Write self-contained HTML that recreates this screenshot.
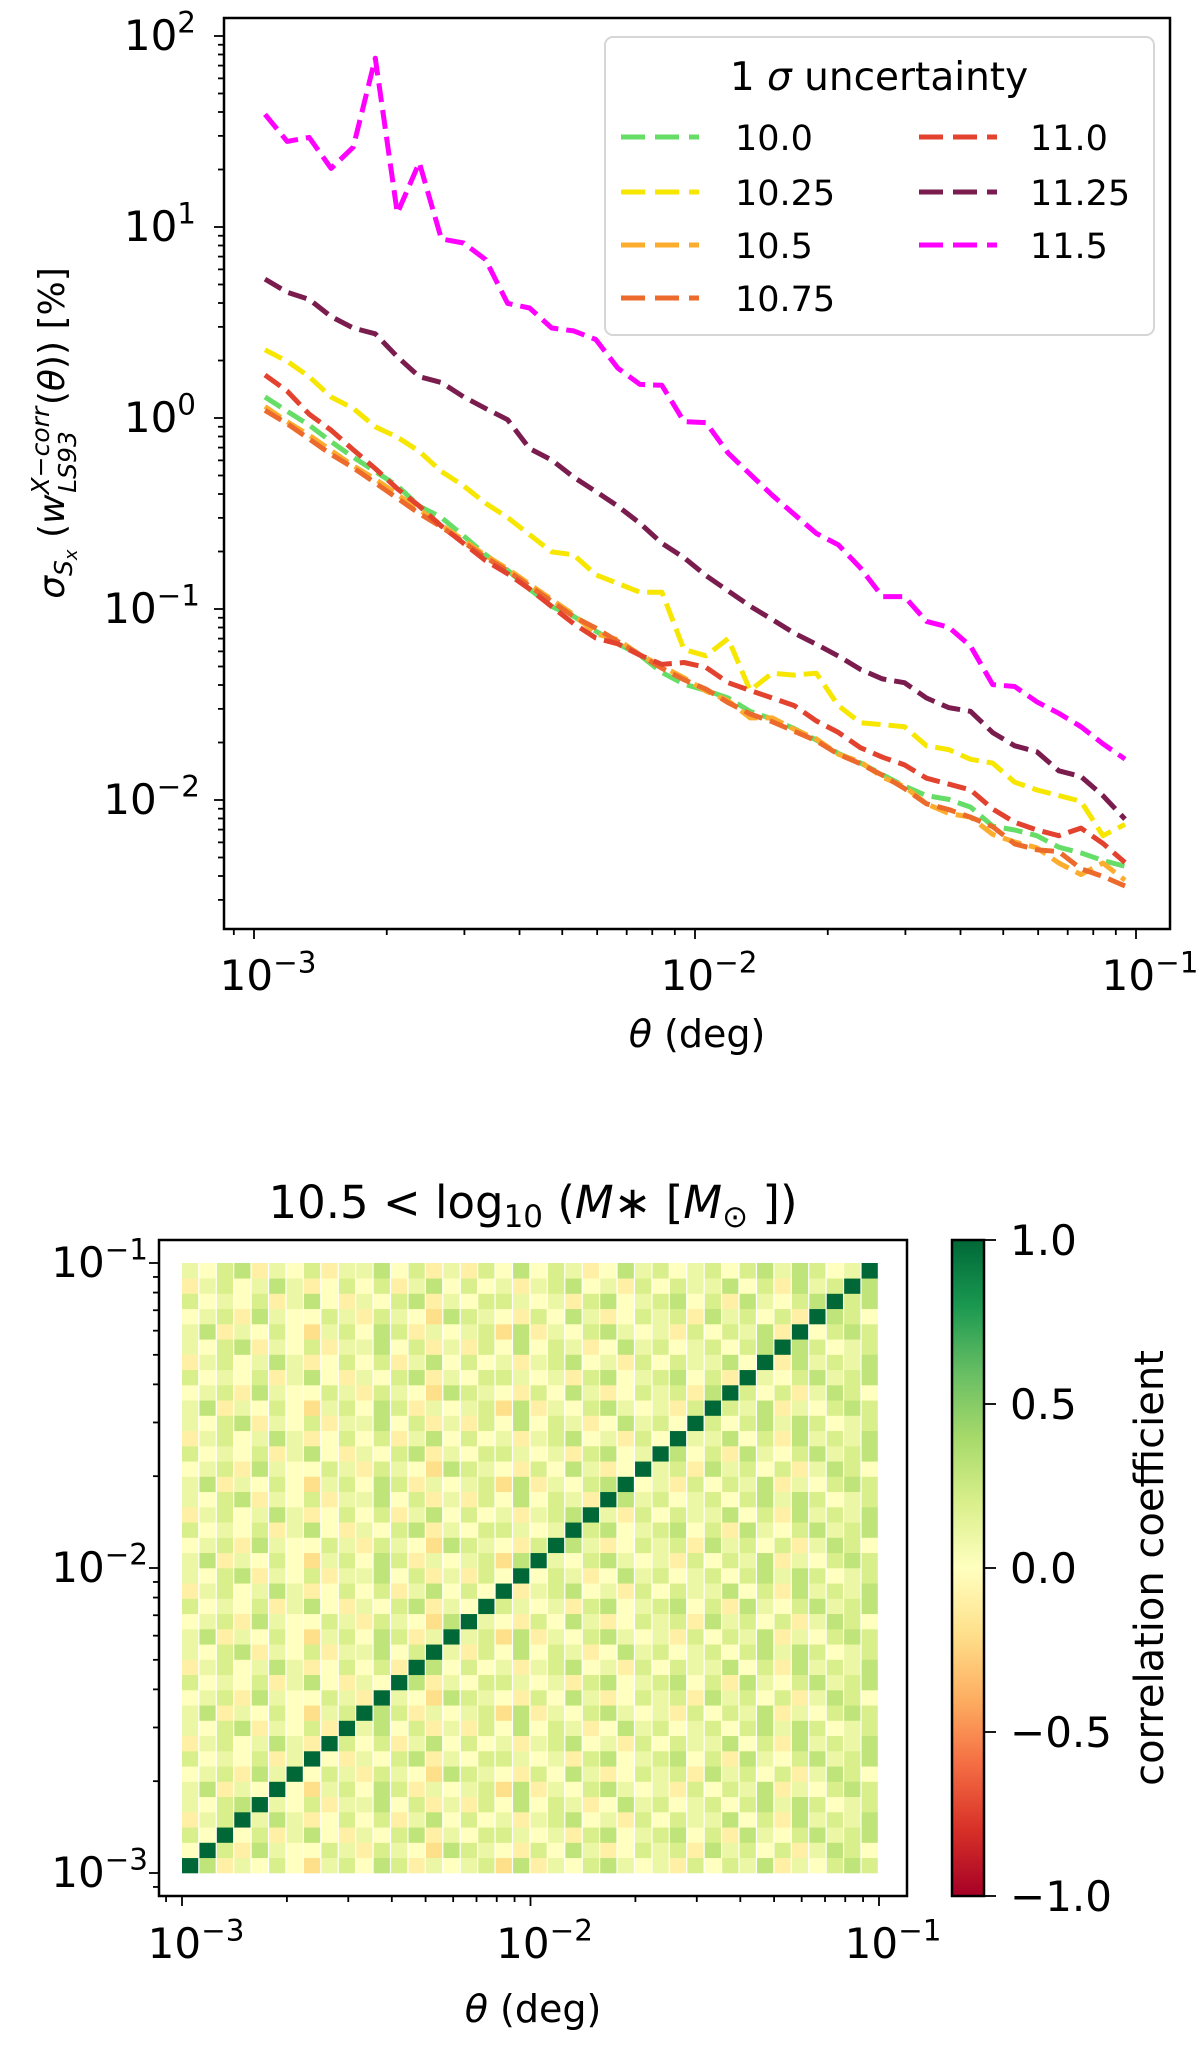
<!DOCTYPE html>
<html><head><meta charset="utf-8"><style>
html,body{margin:0;padding:0;background:#fff}
svg{display:block}
text{font-family:"DejaVu Sans","Liberation Sans",sans-serif;fill:#000}
</style></head><body>
<svg id="fig" width="1200" height="2056" viewBox="0 0 1200 2056" xmlns="http://www.w3.org/2000/svg">
<g id="topchart"></g>
<g id="botchart"></g>
</svg>
<script>
// ---------- data: top chart ----------
const theta = [0.001059,0.001189,0.001334,0.001496,0.001679,0.001884,0.002113,0.002371,0.002661,0.002985,
0.003350,0.003758,0.004217,0.004732,0.005309,0.005957,0.006683,0.007499,0.008414,0.009441,
0.010593,0.011885,0.013335,0.014962,0.016788,0.018836,0.021135,0.023714,0.026607,0.029854,
0.033497,0.037584,0.042170,0.047315,0.053088,0.059566,0.066834,0.074989,0.084140,0.094406];
const seriesNames = ["10.0","10.25","10.5","10.75","11.0","11.25","11.5"];
const seriesColors = ["#66dd66","#f7e600","#fdad2e","#ec6a2c","#e3422f","#7a1d4e","#ff00ff"];
// values given as log10(percent)
const logS100 = [0.110,0.035,-0.037,-0.124,-0.205,-0.280,-0.355,-0.461,-0.521,-0.617,-0.716,-0.797,-0.896,-0.987,-1.038,-1.116,-1.182,-1.242,-1.332,-1.393,
-1.426,-1.466,-1.536,-1.576,-1.626,-1.686,-1.756,-1.806,-1.867,-1.927,-1.977,-1.997,-2.037,-2.137,-2.157,-2.187,-2.247,-2.277,-2.317,-2.347];
const logS1025 = [0.357,0.297,0.216,0.110,0.050,-0.046,-0.100,-0.175,-0.280,-0.355,-0.446,-0.521,-0.611,-0.701,-0.716,-0.821,-0.866,-0.912,-0.912,-1.212,
-1.245,-1.155,-1.426,-1.336,-1.346,-1.336,-1.506,-1.596,-1.606,-1.616,-1.716,-1.736,-1.787,-1.807,-1.907,-1.947,-1.977,-2.007,-2.187,-2.127];
const logS105 = [0.06,-0.02,-0.09,-0.17,-0.25,-0.32,-0.40,-0.48,-0.56,-0.64,-0.72,-0.79,-0.87,-0.95,-1.03,-1.13,-1.16,-1.24,-1.30,-1.36,
-1.43,-1.48,-1.57,-1.57,-1.63,-1.68,-1.76,-1.80,-1.88,-1.93,-2.02,-2.07,-2.09,-2.18,-2.22,-2.25,-2.33,-2.39,-2.33,-2.42];
const logS1075 = [0.04,-0.03,-0.11,-0.19,-0.26,-0.34,-0.42,-0.50,-0.57,-0.65,-0.73,-0.80,-0.88,-0.96,-1.04,-1.10,-1.17,-1.24,-1.31,-1.37,
-1.42,-1.49,-1.55,-1.59,-1.64,-1.69,-1.76,-1.81,-1.87,-1.94,-2.02,-2.05,-2.09,-2.14,-2.23,-2.26,-2.27,-2.36,-2.40,-2.45];
const logS110 = [0.225,0.141,0.020,-0.064,-0.166,-0.265,-0.370,-0.461,-0.566,-0.656,-0.746,-0.815,-0.896,-0.987,-1.077,-1.152,-1.182,-1.242,-1.290,-1.280,
-1.306,-1.386,-1.426,-1.466,-1.506,-1.586,-1.646,-1.726,-1.776,-1.816,-1.886,-1.917,-1.947,-2.047,-2.117,-2.157,-2.187,-2.147,-2.227,-2.327];
const logS1125 = [0.727,0.658,0.621,0.531,0.471,0.441,0.321,0.216,0.186,0.111,0.050,-0.009,-0.160,-0.220,-0.310,-0.385,-0.461,-0.551,-0.656,-0.731,
-0.825,-0.905,-0.985,-1.055,-1.126,-1.185,-1.246,-1.316,-1.366,-1.386,-1.466,-1.516,-1.536,-1.647,-1.716,-1.747,-1.847,-1.877,-1.977,-2.100];
const logS115 = [1.590,1.448,1.469,1.307,1.418,1.884,1.072,1.337,0.937,0.916,0.830,0.600,0.576,0.471,0.456,0.411,0.261,0.176,0.171,-0.019,
-0.024,-0.184,-0.294,-0.404,-0.504,-0.604,-0.664,-0.785,-0.935,-0.935,-1.065,-1.095,-1.195,-1.396,-1.406,-1.486,-1.546,-1.616,-1.706,-1.786];
const allSeries = [logS100,logS1025,logS105,logS1075,logS110,logS1125,logS115];
const topXTickExp = [-3,-2,-1];
const topYTickExp = [-2,-1,0,1,2];

// ---------- data: heatmap ----------
// row 0 = smallest theta; char digit d -> value (d-3)/10 ; 'X' -> 1.0
const corrRows = [
"X624353145 3652434516 2435643425 3546243565",
"3X52643354 2543165432 5364235452 6453524653",
"53X3524632 4356243554 3425634563 5264356456",
"245X464235 3524635342 4563425354 4635264546",
"4356X43524 4635242536 3542364534 5356465345",
"46243X3145 3652434516 2435643425 3546243565",
"345264X354 2543165432 5364235452 6453524653",
"5343524X32 4356243554 3425634563 5264356456",
"24534642X5 3524635342 4563425354 4635264546",
"435624352X 4635242536 3542364534 5356465345",
"4624353145 X652434516 2435643425 3546243565",
"3452643354 2X43165432 5364235452 6453524653",
"5343524632 43X6243554 3425634563 5264356456",
"2453464235 352X635342 4563425354 4635264546",
"4356243524 4635X42536 3542364534 5356465345",
"4624353145 36524X4516 2435643425 3546243565",
"3452643354 254316X432 5364235452 6453524653",
"5343524632 4356243X54 3425634563 5264356456",
"2453464235 35246353X2 4563425354 4635264546",
"4356243524 463524253X 3542364534 5356465345",
"4624353145 3652434516 X435643425 3546243565",
"3452643354 2543165432 5X64235452 6453524653",
"5343524632 4356243554 34X5634563 5264356456",
"2453464235 3524635342 456X425354 4635264546",
"4356243524 4635242536 3542X64534 5356465345",
"4624353145 3652434516 24356X3425 3546243565",
"3452643354 2543165432 536423X452 6453524653",
"5343524632 4356243554 3425634X63 5264356456",
"2453464235 3524635342 45634253X4 4635264546",
"4356243524 4635242536 354236453X 5356465345",
"4624353145 3652434516 2435643425 X546243565",
"3452643354 2543165432 5364235452 6X53524653",
"5343524632 4356243554 3425634563 52X4356456",
"2453464235 3524635342 4563425354 463X264546",
"4356243524 4635242536 3542364534 5356X65345",
"4624353145 3652434516 2435643425 35462X3565",
"3452643354 2543165432 5364235452 645352X653",
"5343524632 4356243554 3425634563 5264356X56",
"2453464235 3524635342 4563425354 46352645X6",
"4356243524 4635242536 3542364534 535646534X"];
const cbarTicks = [1.0,0.5,0.0,-0.5,-1.0];
const cbarTickLabels = ["1.0","0.5","0.0","\u22120.5","\u22121.0"];
const botTickExp = [-3,-2,-1];

// ---------- helpers ----------
const NS="http://www.w3.org/2000/svg";
function mk(tag, attrs, parent){const e=document.createElementNS(NS,tag);for(const k in attrs)e.setAttribute(k,attrs[k]);if(parent)parent.appendChild(e);return e;}
const cstops=[[0,[165,0,38]],[0.1,[215,48,39]],[0.2,[244,109,67]],[0.3,[253,174,97]],[0.4,[254,224,139]],[0.5,[255,255,191]],[0.6,[217,239,139]],[0.7,[166,217,106]],[0.8,[102,189,99]],[0.9,[26,152,80]],[1,[0,104,55]]];
function cmap(v){let t=(v+1)/2;t=Math.max(0,Math.min(1,t));for(let i=1;i<cstops.length;i++){if(t<=cstops[i][0]){const a=cstops[i-1],b=cstops[i];const f=(t-a[0])/(b[0]-a[0]);const c=a[1].map((x,j)=>Math.round(x+(b[1][j]-x)*f));return `rgb(${c[0]},${c[1]},${c[2]})`;}}return "rgb(0,104,55)";}

function powLabel(parent,x,y,exp,anchor,size){
  const t=mk('text',{x:x,y:y,'font-size':size,'text-anchor':anchor},parent);
  const a=mk('tspan',{},t);a.textContent='10';
  const b=mk('tspan',{dy:-size*0.42,'font-size':size*0.7},t);b.textContent=(exp<0?'\u2212':'')+Math.abs(exp);
  return t;
}

// ---------- top chart ----------
const topG=document.getElementById('topchart');
const TX0=254, TXD=441, TY2=36, TYD=191;
const tL=224,tR=1170,tT=18,tB=929;
const tx=lx=>TX0+(lx+3)*TXD;
const ty=ly=>TY2+(2-ly)*TYD;
const tclipEl=mk('clipPath',{id:'tclip'},topG);mk('rect',{x:tL,y:tT,width:tR-tL,height:tB-tT},tclipEl);
const linesG=mk('g',{'clip-path':'url(#tclip)'},topG);


allSeries.forEach((s,k)=>{
  const d=s.map((v,i)=>(i?'L':'M')+tx(Math.log10(theta[i])).toFixed(1)+','+ty(v).toFixed(1)).join(' ');
  const p=mk('path',{d:d,fill:'none',stroke:seriesColors[k],'stroke-width':5,'stroke-dasharray':'19,8','stroke-linejoin':'round'},linesG);
  
  
});
const tframe=mk('rect',{x:tL,y:tT,width:tR-tL,height:tB-tT,fill:'none',stroke:'#000','stroke-width':2.5},topG);


const ttG=mk('g',{stroke:'#000','stroke-width':1.8},topG);
for(let e=-4;e<=0;e++){for(let m=1;m<10;m++){const lx=e+Math.log10(m);const x=tx(lx);if(x<tL||x>tR)continue;const L=m===1?10:6;mk('line',{x1:x,y1:tB,x2:x,y2:tB+L},ttG);}}
for(let e=-3;e<=2;e++){for(let m=1;m<10;m++){const ly=e+Math.log10(m);const y=ty(ly);if(y<tT||y>tB)continue;const L=m===1?10:6;mk('line',{x1:tL,y1:y,x2:tL-L,y2:y},ttG);}}
const txl=mk('g',{},topG);


topXTickExp.forEach(e=>powLabel(txl,tx(e)+14,990,e,'middle',42));
const tyl=mk('g',{},topG);


topYTickExp.forEach(e=>powLabel(tyl,e<0?200:196,ty(e)+14,e,'end',42));
const xlab=mk('text',{x:697,y:1047,'font-size':38,'text-anchor':'middle'},topG);


xlab.innerHTML='<tspan font-style="italic">θ</tspan> (deg)';
const ylab=mk('text',{x:0,y:0,'font-size':36,'text-anchor':'middle',transform:'translate(64,433) rotate(-90)'},topG);


ylab.innerHTML='<tspan font-style="italic">σ</tspan><tspan font-size="25" dy="8" font-style="italic">S</tspan><tspan font-size="18" dy="5" font-style="italic">x</tspan><tspan dy="-13"> (</tspan><tspan font-style="italic">w</tspan><tspan font-size="25" dy="-15" font-style="italic">X</tspan><tspan font-size="25">−</tspan><tspan font-size="25" font-style="italic">corr</tspan><tspan font-size="25" dx="-86" dy="27" font-style="italic">LS93</tspan><tspan dy="-12" dx="26">(</tspan><tspan font-style="italic">θ</tspan><tspan>)) [%]</tspan>';
// legend
const legG=mk('g',{},topG);


mk('rect',{x:605,y:37,width:549,height:298,rx:8,fill:'#fff','fill-opacity':0.85,stroke:'#d6d6d6','stroke-width':2},legG);
const legTitle=mk('text',{x:879,y:90,'font-size':39,'text-anchor':'middle'},legG);


legTitle.innerHTML='1 <tspan font-style="italic">σ</tspan> uncertainty';
const rowsY=[137,192,245,298];
seriesNames.forEach((n,k)=>{
  const col=k<4?0:1,row=k<4?k:k-4;
  const lx0=col?919:621, txx=col?1030:735;
  const g=mk('g',{},legG);
  
  
  mk('line',{x1:lx0,y1:rowsY[row],x2:lx0+78,y2:rowsY[row],stroke:seriesColors[k],'stroke-width':5,'stroke-dasharray':'24,10'},g);
  const t=mk('text',{x:txx,y:rowsY[row]+13,'font-size':35},g);t.textContent=n;
});

// ---------- bottom chart ----------
const botG=document.getElementById('botchart');
const BX0=182,BXD=348.5,BY3=1873,BYD=305;
const bL=159,bR=907,bT=1240,bB=1896;
const bx=lx=>BX0+(lx+3)*BXD;
const by=ly=>BY3-(ly+3)*BYD;
const cellsG=mk('g',{},botG);


const hmRows=corrRows.map(r=>r.replace(/ /g,''));
const NB=hmRows.length;
const hstep=2/NB;
hmRows.forEach((r,j)=>{
  for(let i=0;i<NB;i++){
    const ch=r[i]||'3';
    const v=ch==='X'?1.0:(parseInt(ch,10)-3)/10;
    const x0=bx(-3+i*hstep),x1=bx(-3+(i+1)*hstep);
    const y0=by(-3+(j+1)*hstep),y1=by(-3+j*hstep);
    const c=mk('rect',{x:x0.toFixed(2),y:y0.toFixed(2),width:(x1-x0-1.2).toFixed(2),height:(y1-y0+0.3).toFixed(2),fill:cmap(v)},cellsG);
    
    
  }
});
const bframe=mk('rect',{x:bL,y:bT,width:bR-bL,height:bB-bT,fill:'none',stroke:'#000','stroke-width':2.5},botG);


const btG=mk('g',{stroke:'#000','stroke-width':1.8},botG);
for(let e=-4;e<=0;e++){for(let m=1;m<10;m++){const l=e+Math.log10(m);const x=bx(l);if(x>=bL&&x<=bR){mk('line',{x1:x,y1:bB,x2:x,y2:bB+(m===1?10:6)},btG);}const y=by(l);if(y>=bT&&y<=bB){mk('line',{x1:bL,y1:y,x2:bL-(m===1?10:6),y2:y},btG);}}}
const bxl=mk('g',{},botG);


botTickExp.forEach(e=>powLabel(bxl,bx(e)+14,1958,e,'middle',42));
const byl=mk('g',{},botG);


botTickExp.forEach(e=>powLabel(byl,148,by(e)+14,e,'end',42));
const bxlab=mk('text',{x:533,y:2022,'font-size':38,'text-anchor':'middle'},botG);


bxlab.innerHTML='<tspan font-style="italic">θ</tspan> (deg)';
const hmTitle=mk('text',{x:533,y:1218,'font-size':45,'text-anchor':'middle'},botG);


hmTitle.innerHTML='10.5 &lt; log<tspan font-size="31" dy="9">10</tspan><tspan dy="-9"> (</tspan><tspan font-style="italic">M</tspan>∗ [<tspan font-style="italic">M</tspan><tspan font-size="31" dy="9">⊙</tspan><tspan dy="-9"> ])</tspan>';
// colorbar
const cbG=mk('g',{},botG);


const cbDefs=mk('defs',{},cbG);
const cbGrad=mk('linearGradient',{id:'cbg',x1:0,y1:1,x2:0,y2:0},cbDefs);
for(let k=0;k<=20;k++){mk('stop',{offset:(k/20),'stop-color':cmap(-1+k/10)},cbGrad);}
const cX=952,cW=32;
mk('rect',{x:cX,y:bT,width:cW,height:bB-bT,fill:'url(#cbg)',stroke:'#000','stroke-width':2.5},cbG);
const cby=v=>bB-(v+1)/2*(bB-bT);
cbarTicks.forEach((v,k)=>{
  const y=cby(v);
  mk('line',{x1:cX+cW,y1:y,x2:cX+cW+12,y2:y,stroke:'#000','stroke-width':1.8},cbG);
  const t=mk('text',{x:1010,y:y+15,'font-size':42},cbG);t.textContent=cbarTickLabels[k];
  
  
});
const cbl=mk('text',{x:0,y:0,'font-size':40,'text-anchor':'middle',transform:'translate(1163,1568) rotate(-90)'},cbG);


cbl.textContent='correlation coefficient';
</script>
</body></html>
